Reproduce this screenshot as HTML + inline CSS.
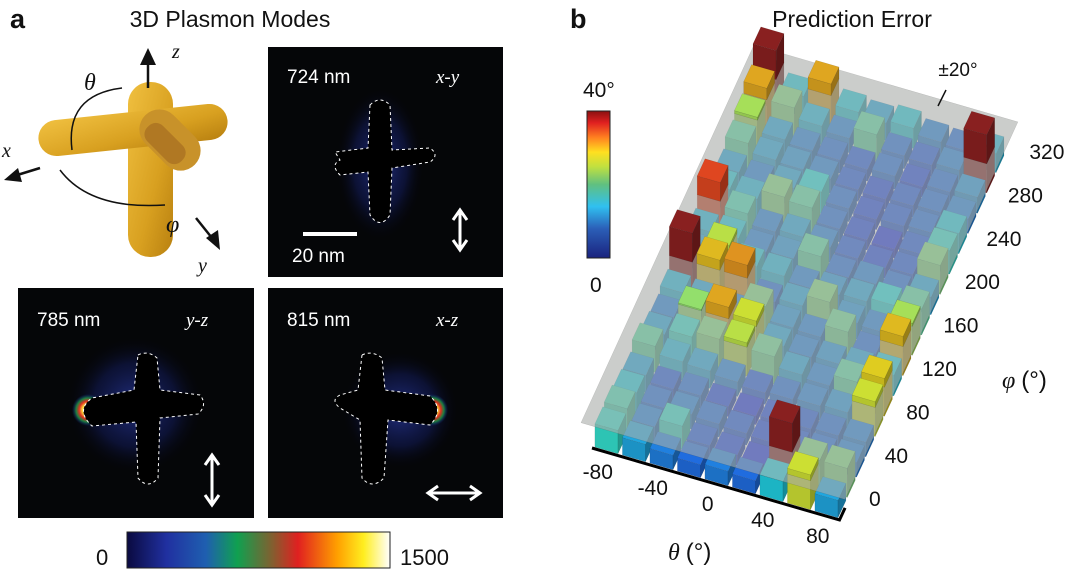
<!DOCTYPE html>
<html><head><meta charset="utf-8"><style>
body{margin:0;width:1080px;height:577px;background:#fff;overflow:hidden;font-family:"Liberation Sans",sans-serif;}
svg{position:absolute;left:0;top:0}
.t{font-family:"Liberation Sans",sans-serif;fill:#111}
.w{font-family:"Liberation Sans",sans-serif;fill:#fff}
.it{font-family:"Liberation Serif",serif;font-style:italic}
</style></head><body>
<svg width="1080" height="577" viewBox="0 0 1080 577">
<defs>
<radialGradient id="glow" cx="50%" cy="50%" r="50%"><stop offset="0" stop-color="#2a3aa0" stop-opacity="0.8"/><stop offset="0.6" stop-color="#15206a" stop-opacity="0.45"/><stop offset="1" stop-color="#000" stop-opacity="0"/></radialGradient>
<radialGradient id="hot" cx="50%" cy="50%" r="50%"><stop offset="0" stop-color="#fff"/><stop offset="0.35" stop-color="#ffe040"/><stop offset="0.55" stop-color="#e03020"/><stop offset="0.75" stop-color="#1a8040"/><stop offset="1" stop-color="#102080" stop-opacity="0"/></radialGradient>
<linearGradient id="cbA" x1="0" x2="1"><stop offset="0" stop-color="#0a0a40"/><stop offset="0.15" stop-color="#2030a0"/><stop offset="0.3" stop-color="#1f5fb0"/><stop offset="0.42" stop-color="#10a050"/><stop offset="0.55" stop-color="#806030"/><stop offset="0.65" stop-color="#e02020"/><stop offset="0.8" stop-color="#ffa000"/><stop offset="0.9" stop-color="#ffee20"/><stop offset="1" stop-color="#ffffff"/></linearGradient>
<linearGradient id="cbB" x1="0" y1="1" x2="0" y2="0"><stop offset="0" stop-color="#1a237e"/><stop offset="0.2" stop-color="#2b5fb8"/><stop offset="0.35" stop-color="#30c0f0"/><stop offset="0.5" stop-color="#60c080"/><stop offset="0.62" stop-color="#c0e040"/><stop offset="0.72" stop-color="#ffe020"/><stop offset="0.82" stop-color="#ff8020"/><stop offset="0.92" stop-color="#e02020"/><stop offset="1" stop-color="#8a1010"/></linearGradient>
<linearGradient id="gold" x1="0" y1="0" x2="1" y2="1"><stop offset="0" stop-color="#f0c040"/><stop offset="0.6" stop-color="#d8a020"/><stop offset="1" stop-color="#b88010"/></linearGradient>
</defs>

<text class="t" x="10" y="28" font-size="27" font-weight="bold">a</text>
<text class="t" x="230" y="27" font-size="23" text-anchor="middle">3D Plasmon Modes</text>
<text class="t" x="570" y="28" font-size="27" font-weight="bold">b</text>
<text class="t" x="852" y="27" font-size="23" text-anchor="middle">Prediction Error</text>

<g>
<rect x="128" y="82" width="45" height="175" rx="22" fill="url(#gold)"/>
<rect x="38" y="112" width="190" height="36" rx="18" fill="url(#gold)" transform="rotate(-6 133 130)"/>
<rect x="135" y="120" width="70" height="40" rx="20" fill="#c8922a" transform="rotate(45 170 140)"/>
<rect x="145" y="135" width="48" height="22" rx="10" fill="#a06820" opacity="0.6" transform="rotate(45 170 140)"/>
</g>
<g stroke="#111" stroke-width="2.5" fill="none">
<line x1="148" y1="88" x2="148" y2="60"/><line x1="40" y1="168" x2="14" y2="176"/><line x1="196" y1="218" x2="212" y2="238"/>
<path d="M72 150 Q65 95 122 88" stroke-width="1.5"/><path d="M60 170 Q90 210 165 205" stroke-width="1.5"/>
</g>
<polygon points="148,48 140,65 156,65" fill="#111"/><polygon points="4,180 18,168 22,182" fill="#111"/><polygon points="220,250 206,238 218,230" fill="#111"/>
<text class="t it" x="172" y="58" font-size="20">z</text>
<text class="t it" x="2" y="157" font-size="20">x</text>
<text class="t it" x="198" y="272" font-size="20">y</text>
<text class="t it" x="84" y="90" font-size="24">θ</text>
<text class="t it" x="166" y="232" font-size="24">φ</text>

<g>
<rect x="268" y="47" width="235" height="230" fill="#050608"/>
<ellipse cx="380" cy="164" rx="45" ry="78" fill="url(#glow)"/>
<path d="M370 105 Q380 95 390 105 L392 150 L430 148 Q440 155 430 162 L392 168 L390 215 Q380 230 370 215 L368 172 L340 175 Q330 165 340 160 L335 152 L368 148 Z" fill="#000" stroke="#fff" stroke-dasharray="3 3" stroke-width="1"/>
<text class="w" x="287" y="83" font-size="19">724 nm</text>
<text class="w it" x="436" y="83" font-size="19">x-y</text>
<rect x="303" y="232" width="54" height="4" fill="#fff"/>
<text class="w" x="292" y="262" font-size="19">20 nm</text>
<path d="M460 210 V250 M453 220 L460 210 L467 220 M453 240 L460 250 L467 240" stroke="#fff" stroke-width="3" fill="none"/>
</g>
<g>
<rect x="18" y="288" width="236" height="230" fill="#050608"/>
<ellipse cx="135" cy="405" rx="70" ry="70" fill="url(#glow)"/>
<circle cx="88" cy="410" r="16" fill="url(#hot)"/>
<path d="M138 355 Q148 350 157 358 L160 390 L200 395 Q208 405 198 414 L160 418 L158 478 Q148 490 138 478 L136 422 L92 426 Q75 410 92 398 L134 390 Z" fill="#000" stroke="#fff" stroke-dasharray="3 3" stroke-width="1"/>
<text class="w" x="37" y="326" font-size="19">785 nm</text>
<text class="w it" x="186" y="326" font-size="19">y-z</text>
<path d="M212 455 V505 M205 465 L212 455 L219 465 M205 495 L212 505 L219 495" stroke="#fff" stroke-width="3" fill="none"/>
</g>
<g>
<rect x="268" y="288" width="235" height="230" fill="#050608"/>
<ellipse cx="400" cy="410" rx="60" ry="60" fill="url(#glow)"/>
<circle cx="432" cy="410" r="16" fill="url(#hot)"/>
<path d="M362 355 Q372 350 382 358 L385 390 L430 396 Q445 410 430 425 L388 420 L384 478 Q372 490 362 478 L360 420 L340 408 Q330 400 340 395 L358 390 Z" fill="#000" stroke="#fff" stroke-dasharray="3 3" stroke-width="1"/>
<text class="w" x="287" y="326" font-size="19">815 nm</text>
<text class="w it" x="436" y="326" font-size="19">x-z</text>
<path d="M428 493 H480 M438 486 L428 493 L438 500 M470 486 L480 493 L470 500" stroke="#fff" stroke-width="3" fill="none"/>
</g>
<rect x="127" y="532" width="263" height="36" fill="url(#cbA)" stroke="#222"/>
<text class="t" x="96" y="565" font-size="22">0</text>
<text class="t" x="400" y="565" font-size="22">1500</text>

<rect x="587" y="111" width="23" height="147" fill="url(#cbB)" stroke="#222"/>
<text class="t" x="583" y="97" font-size="21">40°</text>
<text class="t" x="590" y="292" font-size="21">0</text>

<g id="bars3d"></g>
<text class="t" x="958" y="76" font-size="19" text-anchor="middle">±20°</text>
<line x1="946" y1="90" x2="938" y2="106" stroke="#111" stroke-width="1.5"/>
<text class="t it" x="1002" y="388" font-size="24">φ <tspan font-style="normal" font-family="Liberation Sans">(°)</tspan></text>
<text class="t it" x="668" y="560" font-size="24">θ <tspan font-style="normal" font-family="Liberation Sans">(°)</tspan></text>
</svg>
<script>
const thetaCats=[-80,-60,-40,-20,0,20,40,60,80];
const phiCats=[0,20,40,60,80,100,120,140,160,180,200,220,240,260,280,300,320,340];
const errVals=[
[16,12,10,9,10,9,14,24,12],
[17,10,16,8,7,6,40,20,20],
[14,9,10,9,8,7,8,9,10],
[12,8,9,7,6,7,8,9,10],
[18,13,12,10,8,9,10,11,24],
[12,16,20,23,19,12,10,18,26],
[10,21,28,24,12,10,11,12,14],
[13,12,10,20,11,10,19,9,27],
[40,27,29,9,12,20,11,10,22],
[12,23,14,13,10,11,12,15,18],
[13,14,10,11,18,9,10,9,12],
[33,17,10,12,10,8,7,8,20],
[14,13,20,18,9,7,6,8,16],
[12,10,12,15,9,7,8,9,14],
[18,12,11,10,8,7,8,9,10],
[22,12,10,9,8,9,7,9,11],
[28,20,13,10,18,9,8,10,40],
[40,14,28,14,12,14,10,9,13]];
const thetaTicks=[-80,-40,0,40,80];
const phiTicks=[0,40,80,120,160,200,240,280,320];
const threshold=20;
const O=[592,448],T=[27.5,8],P=[9.3,-20.3],S=1.45,G=0.08;
const NS='http://www.w3.org/2000/svg';
const g=document.getElementById('bars3d');
function pr(u,v,z){return [O[0]+u*T[0]+v*P[0],O[1]+u*T[1]+v*P[1]-z*S];}
function col(val,k){let t=Math.max(0,Math.min(1,val/40));
 const c=x=>Math.max(0,Math.min(1,1.5-Math.abs(4*t-x)));
 let r=c(3),gg=c(2),b=c(1);if(t>0.9){r=0.55+(1-t)*3;}
 const m=0.25;r=r*(1-m)+0.5*m;gg=gg*(1-m)+0.5*m;b=b*(1-m)+0.5*m;
 return `rgb(${Math.round(r*255*k)},${Math.round(gg*255*k)},${Math.round(b*255*k)})`;}
function poly(pts,fill,name,op){const p=document.createElementNS(NS,'polygon');
 p.setAttribute('points',pts.map(q=>q[0].toFixed(1)+','+q[1].toFixed(1)).join(' '));
 p.setAttribute('fill',fill);if(op!==undefined)p.setAttribute('fill-opacity',op);
 p.setAttribute('stroke','rgba(0,0,0,0.15)');p.setAttribute('stroke-width','0.5');
 
 
 g.appendChild(p);}
function bar(c,r,z0,z1,val,name){const u0=c+G,u1=c+1-G,v0=r+G,v1=r+1-G;
 poly([pr(u0,v0,z0),pr(u1,v0,z0),pr(u1,v0,z1),pr(u0,v0,z1)],col(val,0.88),name);
 poly([pr(u1,v0,z0),pr(u1,v1,z0),pr(u1,v1,z1),pr(u1,v0,z1)],col(val,0.68),name);
 poly([pr(u0,v0,z1),pr(u1,v0,z1),pr(u1,v1,z1),pr(u0,v1,z1)],col(val,1),name);}
for(let r=phiCats.length-1;r>=0;r--)for(let c=0;c<thetaCats.length;c++){
 const v=errVals[r][c];bar(c,r,0,Math.min(v,threshold),v,'bar-theta'+thetaCats[c]+'-phi'+phiCats[r]);}
poly([pr(-0.3,-0.3,threshold),pr(9.3,-0.3,threshold),pr(9.3,18.3,threshold),pr(-0.3,18.3,threshold)],'#a8aca8','threshold-plane',0.6);
for(let r=phiCats.length-1;r>=0;r--)for(let c=0;c<thetaCats.length;c++){
 const v=errVals[r][c];if(v>threshold)bar(c,r,threshold,v,v,'bar-top-theta'+thetaCats[c]+'-phi'+phiCats[r]);}
const ax=document.createElementNS(NS,'polyline');const a0=pr(0,0,0),a1=pr(9,0,0),a2=pr(9,0.6,0);
ax.setAttribute('points',`${a0} ${a1} ${a2}`);ax.setAttribute('fill','none');ax.setAttribute('stroke','#000');ax.setAttribute('stroke-width','3');


g.appendChild(ax);
function txt(x,y,s,name){const t=document.createElementNS(NS,'text');t.setAttribute('x',x);t.setAttribute('y',y);
 t.setAttribute('font-size','21');t.setAttribute('text-anchor','middle');t.setAttribute('class','t');t.textContent=s;
 
 
 g.appendChild(t);}
thetaTicks.forEach(th=>{const c=thetaCats.indexOf(th);const p=pr(c+0.5,0,0);txt(p[0]-8,p[1]+27,th,'theta-tick-'+th);});
phiTicks.forEach(ph=>{const r=phiCats.indexOf(ph);const x=O[0]+9*T[0]+30+(r+0.5)*10.75,y=O[1]+9*T[1]-3+(r+0.5)*-21.7;txt(x,y,ph,'phi-tick-'+ph);});
</script>
</body></html>
